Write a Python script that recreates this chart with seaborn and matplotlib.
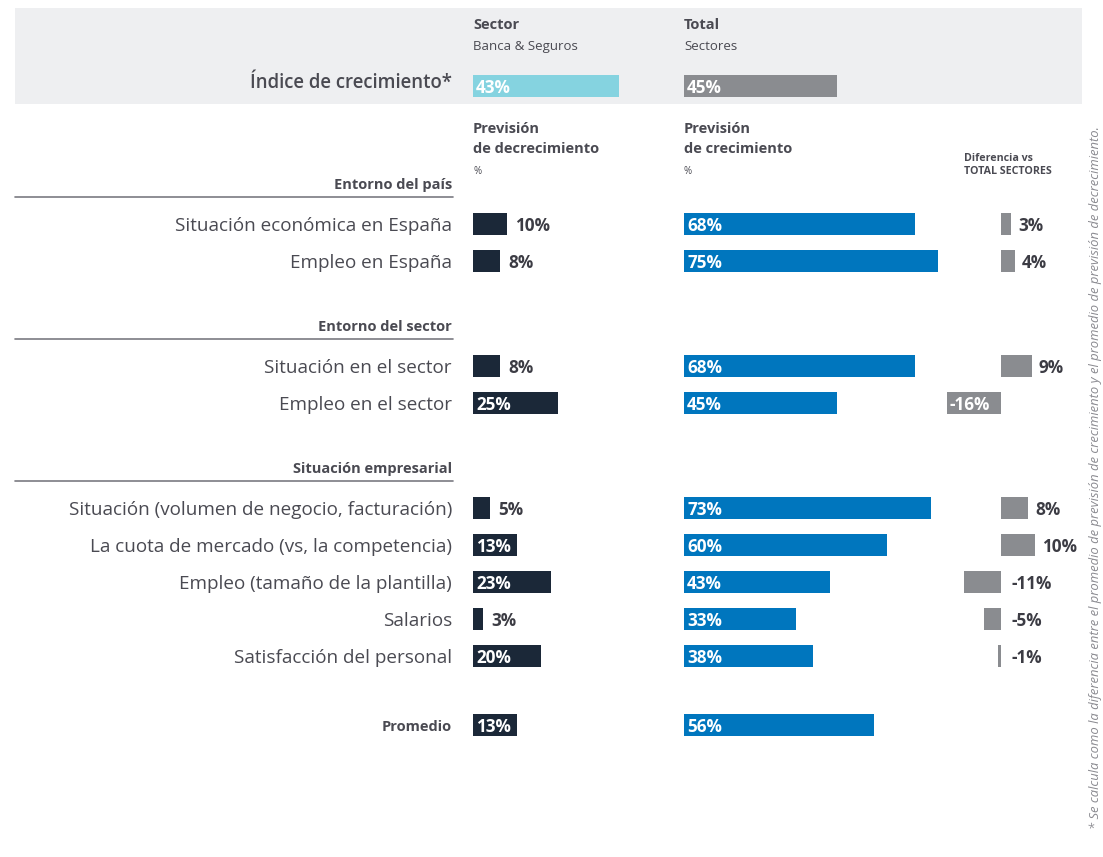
import numpy as np
import pandas as pd
import seaborn as sns
import matplotlib.pyplot as plt
from matplotlib.patches import Rectangle

sns.set_theme(style='white')
plt.rcParams['font.family'] = ['Open Sans', 'DejaVu Sans']

# data
groups = ['Entorno del país', 'Entorno del sector', 'Situación empresarial']
labels = [['Situación económica en España', 'Empleo en España'],
          ['Situación en el sector', 'Empleo en el sector'],
          ['Situación (volumen de negocio, facturación)',
           'La cuota de mercado (vs, la competencia)',
           'Empleo (tamaño de la plantilla)',
           'Salarios',
           'Satisfacción del personal']]
decrecimiento = [10, 8, 8, 25, 5, 13, 23, 3, 20]
crecimiento = [68, 75, 68, 45, 73, 60, 43, 33, 38]
diferencia = [3, 4, 9, -16, 8, 10, -11, -5, -1]
promedio_dec = 13
promedio_cre = 56
indice_sector = 43
indice_total = 45

# colours
c_dec = '#1b2838'
c_cre = '#0076be'
c_dif = '#8a8c90'
c_sector = '#85d3e0'
c_text = '#4a4a52'
c_val = '#3c3c44'

W, H = 1103, 857
px = 3.39  # pixels per percent point
dy = 2     # small downward nudge for centred text

fig = plt.figure(figsize=(W / 100, H / 100), dpi=100)
bg = fig.add_axes([0, 0, 1, 1])
bg.set_xlim(0, W)
bg.set_ylim(H, 0)
bg.axis('off')


def col_axes(x0, lo, hi):
    left = x0 + lo * px
    ax = fig.add_axes([left / W, 0, (hi - lo) * px / W, 1])
    ax.set_xlim(lo, hi)
    ax.patch.set_alpha(0)
    return ax


ax_dec = col_axes(473, 0, 55)
ax_cre = col_axes(684, 0, 85)
ax_dif = col_axes(1001, -20, 15)

# row layout
step, gap = 37, 105
row_y, head_y = [], []
y = 224
for g, labs in enumerate(labels):
    head_y.append(y)
    for i in range(len(labs)):
        row_y.append(y)
        y += step
    y += gap - step
prom_y = row_y[-1] + 69
flat_labels = [l for labs in labels for l in labs]

# header band
bg.add_patch(Rectangle((15, 8), 1067, 96, color='#eeeff1', lw=0, zorder=0))
hdr_y = 86
bg.text(473, 25, 'Sector', fontsize=10.5, fontweight='bold', color=c_text, va='center')
bg.text(473, 46, 'Banca & Seguros', fontsize=9.5, color=c_text, va='center')
bg.text(684, 25, 'Total', fontsize=10.5, fontweight='bold', color=c_text, va='center')
bg.text(684, 46, 'Sectores', fontsize=9.5, color=c_text, va='center')
bg.text(452, 83, 'Índice de crecimiento*', fontsize=13.4, fontweight='semibold',
        color=c_text, ha='right', va='center')

for ax in (ax_dec, ax_cre, ax_dif):
    ax.set_ylim(H, 0)

fs = 12.3
ax_dec.barh(hdr_y, indice_sector, height=22, color=c_sector, lw=0)
ax_cre.barh(hdr_y, indice_total, height=22, color=c_dif, lw=0)
ax_dec.annotate(f'{indice_sector}%', (0, hdr_y), xytext=(3, -dy), textcoords='offset pixels',
                color='white', fontsize=fs, fontweight='bold', va='center')
ax_cre.annotate(f'{indice_total}%', (0, hdr_y), xytext=(3, -dy), textcoords='offset pixels',
                color='white', fontsize=fs, fontweight='bold', va='center')

# column headers
bg.text(473, 129, 'Previsión', fontsize=10.5, fontweight='bold', color=c_text, va='center')
bg.text(473, 149, 'de decrecimiento', fontsize=10.5, fontweight='bold', color=c_text, va='center')
bg.text(473, 171, '%', fontsize=7, color=c_text, va='center')
bg.text(684, 129, 'Previsión', fontsize=10.5, fontweight='bold', color=c_text, va='center')
bg.text(684, 149, 'de crecimiento', fontsize=10.5, fontweight='bold', color=c_text, va='center')
bg.text(684, 171, '%', fontsize=7, color=c_text, va='center')
bg.text(964, 158, 'Diferencia vs', fontsize=7.7, fontweight='bold', color=c_text, va='center')
bg.text(964, 171, 'TOTAL SECTORES', fontsize=7.7, fontweight='bold', color=c_text, va='center')

# group headings and row labels
for g, gy in zip(groups, head_y):
    bg.text(452, gy - 41 + dy, g, fontsize=10.5, fontweight='bold', color=c_text,
            ha='right', va='center')
    bg.plot([15, 453], [gy - 27, gy - 27], color='#7a7a82', lw=1.2)
for lab, ry in zip(flat_labels, row_y):
    bg.text(452, ry + dy, lab, fontsize=13.6, color=c_text, ha='right', va='center')
bg.text(452, prom_y + dy, 'Promedio', fontsize=10.5, fontweight='bold', color=c_text,
        ha='right', va='center')

# bars
df = pd.DataFrame({'y': row_y + [prom_y],
                   'dec': decrecimiento + [promedio_dec],
                   'cre': crecimiento + [promedio_cre]})
df_dif = pd.DataFrame({'y': row_y, 'dif': diferencia})

sns.barplot(data=df, x='dec', y='y', orient='h', native_scale=True, color=c_dec,
            saturation=1, errorbar=None, width=0.6, linewidth=0, ax=ax_dec)
sns.barplot(data=df, x='cre', y='y', orient='h', native_scale=True, color=c_cre,
            saturation=1, errorbar=None, width=0.6, linewidth=0, ax=ax_cre)
sns.barplot(data=df_dif, x='dif', y='y', orient='h', native_scale=True, color=c_dif,
            saturation=1, errorbar=None, width=0.6, linewidth=0, ax=ax_dif)

for ax, lo, hi in ((ax_dec, 0, 55), (ax_cre, 0, 85), (ax_dif, -20, 15)):
    ax.set_xlim(lo, hi)
    ax.set_ylim(H, 0)
    ax.axis('off')

for v, ry in zip(df['dec'], df['y']):
    if v >= 13:
        ax_dec.annotate(f'{v}%', (0, ry), xytext=(3, -dy), textcoords='offset pixels',
                        color='white', fontsize=fs, fontweight='bold', va='center')
    else:
        ax_dec.annotate(f'{v}%', (v, ry), xytext=(8, -dy), textcoords='offset pixels',
                        color=c_val, fontsize=fs, fontweight='bold', va='center')
for v, ry in zip(df['cre'], df['y']):
    ax_cre.annotate(f'{v}%', (0, ry), xytext=(3, -dy), textcoords='offset pixels',
                    color='white', fontsize=fs, fontweight='bold', va='center')
for v, ry in zip(diferencia, row_y):
    if v >= 0:
        ax_dif.annotate(f'{v}%', (v, ry), xytext=(7, -dy), textcoords='offset pixels',
                        color=c_val, fontsize=fs, fontweight='bold', va='center')
    elif v <= -15:
        ax_dif.annotate(f'{v}%', (v, ry), xytext=(3, -dy), textcoords='offset pixels',
                        color='white', fontsize=fs, fontweight='bold', va='center')
    else:
        ax_dif.annotate(f'{v}%', (0, ry), xytext=(10, -dy), textcoords='offset pixels',
                        color=c_val, fontsize=fs, fontweight='bold', va='center')

# footnote
bg.text(1096, 478, '* Se calcula como la diferencia entre el promedio de previsión de crecimiento '
        'y el promedio de previsión de decrecimiento.', rotation=90, fontsize=9.4,
        fontstyle='italic', color='#8a8a90', ha='center', va='center')

fig.savefig('out.png', dpi=100)
